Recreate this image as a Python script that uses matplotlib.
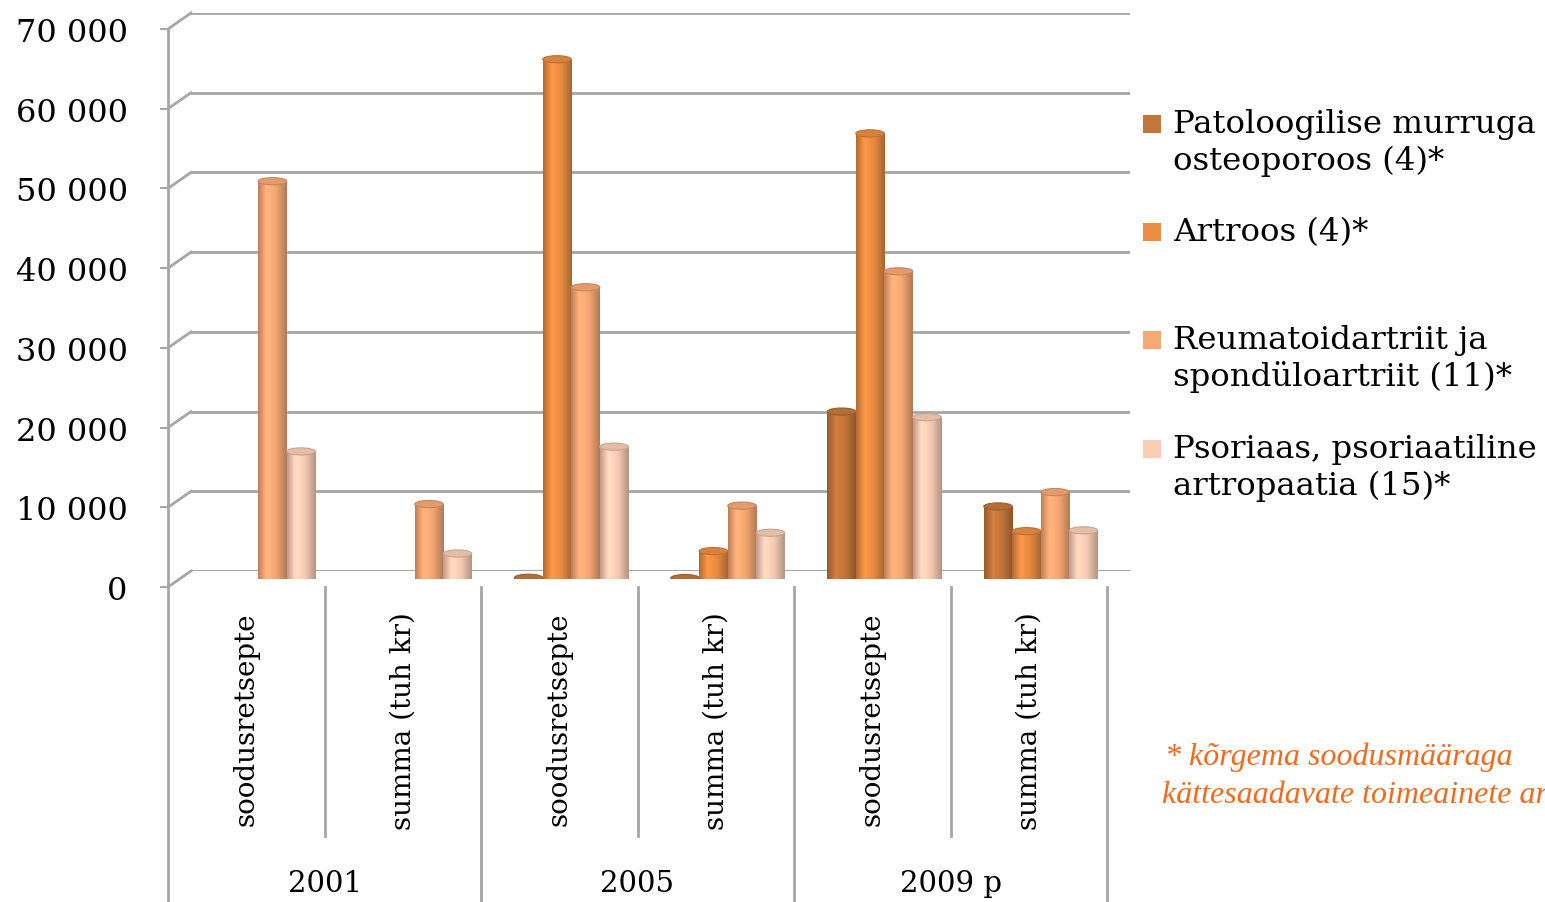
import numpy as np
import matplotlib.pyplot as plt
from matplotlib.patches import Ellipse, Polygon, Rectangle
from matplotlib.lines import Line2D

# data: two measures for each year
years = ["2001", "2005", "2009 p"]
measures = ["soodusretsepte", "summa (tuh kr)"]
series_names = ["Patoloogilise murruga\nosteoporoos (4)*",
                "Artroos (4)*",
                "Reumatoidartriit ja\nspondüloartriit (11)*",
                "Psoriaas, psoriaatiline\nartropaatia (15)*"]
patoloogiline = [0, 0, 150, 120, 21000, 9100]
artroos = [0, 0, 65200, 3500, 55900, 6000]
reuma = [49900, 9400, 36600, 9200, 38600, 10900]
psoriaas = [16000, 3200, 16600, 5800, 20300, 6100]
colors = ["#C4763A", "#EB8D42", "#F7A874", "#F9CDB5"]
yticks = [0, 10000, 20000, 30000, 40000, 50000, 60000, 70000]

W, H = 1545, 903
fig = plt.figure(figsize=(W / 100, H / 100), dpi=100)
fig.patch.set_facecolor("white")


def box(x0, y0, x1, y1):
    # pixel box (top-left origin) -> figure fraction rect
    return [x0 / W, 1 - y1 / H, (x1 - x0) / W, (y1 - y0) / H]


def fpt(x, y):
    return x / W, 1 - y / H


grid_c = "#A6A6A6"
serif = "DejaVu Serif"

# back wall with gridlines
ax_back = fig.add_axes(box(191, 14, 1130, 572))
ax_back.set_xlim(0, 6)
ax_back.set_ylim(0, 70000)
ax_back.axis("off")
for v in yticks:
    ax_back.axhline(v, color=grid_c, lw=2.0, zorder=2)

# floor
floor = Polygon([fpt(168, 588), fpt(1107, 588), fpt(1130, 572), fpt(191, 572)],
                closed=True, transform=fig.transFigure, facecolor="#F2F2F2",
                edgecolor=grid_c, lw=1.5, zorder=1)
ax_back.add_patch(floor)

# front plane with value axis
ax = fig.add_axes(box(168, 30, 1107, 588))
ax.set_xlim(0, 6)
ax.set_ylim(0, 70000)
ax.patch.set_alpha(0)
for s in ["top", "right", "bottom"]:
    ax.spines[s].set_visible(False)
ax.spines["left"].set_color(grid_c)
ax.spines["left"].set_linewidth(2.0)
ax.set_yticks(yticks)
ax.set_yticklabels([f"{v:,}".replace(",", " ") for v in yticks],
                   fontsize=23, family=serif)
ax.tick_params(axis="y", length=6, width=1.5, color=grid_c, pad=23)
ax.set_xticks([])

# depth lines joining front ticks to the back wall
fig.canvas.draw()
inv = fig.transFigure.inverted()
for v in yticks:
    p0 = inv.transform(ax.transData.transform((0, v)))
    p1 = inv.transform(ax_back.transData.transform((0, v)))
    fig.add_artist(Line2D([p0[0], p1[0]], [p0[1], p1[1]], color=grid_c,
                          lw=2.0, transform=fig.transFigure, zorder=3))

# bars as shaded cylinders
ax_bar = fig.add_axes(box(180, 22, 1119, 580))
ax_bar.set_xlim(0, 6)
ax_bar.set_ylim(0, 70000)
ax_bar.axis("off")
ax_bar.patch.set_alpha(0)

bw = 0.182
shade = np.concatenate([np.linspace(0.76, 1.08, 20), np.linspace(1.08, 0.98, 20),
                        np.linspace(0.98, 0.72, 24)])
ell_h = 900
for k, vals in enumerate([patoloogiline, artroos, reuma, psoriaas]):
    base = np.array(plt.matplotlib.colors.to_rgb(colors[k]))
    grad = np.clip(base[None, :] * shade[:, None], 0, 1)[None, :, :]
    for i, v in enumerate(vals):
        if v <= 0:
            continue
        xc = i + 0.5 + (k - 1.5) * bw
        rect = ax_bar.bar(xc, v, width=bw, color=colors[k], zorder=3)[0]
        im = ax_bar.imshow(grad, extent=[xc - bw / 2, xc + bw / 2, 0, v],
                           aspect="auto", zorder=4, interpolation="bilinear")
        im.set_clip_path(rect)
        ax_bar.add_patch(Ellipse((xc, 0), bw, ell_h, facecolor=base * 0.85,
                                 edgecolor="none", zorder=3.5))
        ax_bar.add_patch(Ellipse((xc, v), bw, ell_h,
                                 facecolor=np.clip(base * 0.92, 0, 1),
                                 edgecolor=np.clip(base * 0.8, 0, 1), lw=0.8, zorder=5))
ax_bar.set_xlim(0, 6)
ax_bar.set_ylim(0, 70000)

# category axis below the floor
for i in range(7):
    x = inv.transform(ax.transData.transform((i, 0)))[0]
    y_end = 903 if i % 2 == 0 else 837
    fig.add_artist(Line2D([x, x], [fpt(0, 588)[1], fpt(0, y_end)[1]], color=grid_c,
                          lw=2.0, transform=fig.transFigure))
for i in range(6):
    x = inv.transform(ax.transData.transform((i + 0.5, 0)))[0]
    fig.text(x, fpt(0, 612)[1], measures[i % 2], rotation=90, ha="center",
             va="top", fontsize=20, family=serif)
for j, yr in enumerate(years):
    x = inv.transform(ax.transData.transform((2 * j + 1, 0)))[0]
    fig.text(x, fpt(0, 884)[1], yr, ha="center", va="center", fontsize=21,
             family=serif)

# legend
legend_y = [143, 233, 359, 468]
for k, name in enumerate(series_names):
    lines = name.split("\n")
    y0 = legend_y[k] - (len(lines) - 1) * 18.5
    fig.add_artist(Rectangle(fpt(1143, y0 + 9), 18 / W, 18 / H, facecolor=colors[k],
                             edgecolor="none", transform=fig.transFigure))
    for n, line in enumerate(lines):
        fig.text(*fpt(1173, y0 + n * 37), line, ha="left", va="center",
                 fontsize=23.3, family=serif)

# footnote
fig.text(*fpt(1165, 757), "* kõrgema soodusmääraga", ha="left", va="center",
         fontsize=23, style="italic", family="Liberation Serif", color="#F26A1B")
fig.text(*fpt(1162, 796), "kättesaadavate toimeainete arv", ha="left",
         va="center", fontsize=23, style="italic", family="Liberation Serif",
         color="#F26A1B")

fig.savefig("out.png", dpi=100)
